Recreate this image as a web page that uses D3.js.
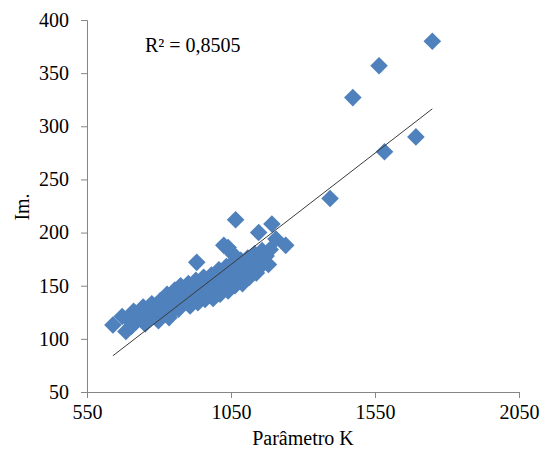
<!DOCTYPE html>
<html>
<head>
<meta charset="utf-8">
<script src="https://cdn.jsdelivr.net/npm/d3@7"></script>
<style>
    body { margin: 0; background: #fff; }
    text { font-family: "Liberation Serif", "Times New Roman", serif; fill: #000; }
</style>
</head>
<body>
<svg id="chart" width="548" height="460"></svg>
<script>
// values
var kValues = [640, 672, 685, 695, 705, 712, 720, 735, 745, 752, 760, 768, 775, 782, 790, 798,
    805, 812, 820, 828, 835, 842, 848, 855, 862, 868, 875, 880, 888, 895, 902, 908, 915, 922,
    928, 935, 942, 948, 955, 960, 968, 975, 982, 988, 995, 1002, 1008, 1012, 1020, 1028, 1034,
    1040, 1046, 1052, 1058, 1064, 1070, 1078, 1084, 1090, 1096, 1102, 1108, 1114, 1120, 1126,
    1132, 1138, 1145, 1152, 1158, 1165, 1172, 1180, 1186,
    931, 1025, 1040, 1056, 1066, 1146, 1192, 1206, 1240, 1394, 1473, 1564, 1583, 1692, 1749];
var imValues = [113, 121, 107, 118, 112, 126, 116, 122, 130, 114, 125, 119, 133, 122, 128, 117,
    136, 124, 131, 142, 120, 134, 127, 146, 138, 128, 150, 133, 143, 136, 152, 131, 145, 139,
    155, 134, 148, 142, 158, 137, 151, 145, 160, 138, 153, 147, 165, 142, 156, 150, 168,
    145, 160, 153, 172, 150, 164, 157, 174, 152, 168, 161, 176, 158, 171, 165,
    180, 162, 175, 168, 183, 172, 178, 170, 184,
    172, 188, 186, 180, 212, 200, 208, 194, 188, 232, 327, 357, 276, 290, 380];
var xTicks = [550, 1050, 1550, 2050];
var yTicks = [50, 100, 150, 200, 250, 300, 350, 400];
var trendSlope = 0.2095;
var trendIntercept = -50.0;
var rSquaredLabel = "R² = 0,8505";

var svg = d3.select("#chart");
var x = d3.scaleLinear().domain([550, 2050]).range([87, 519]);
var y = d3.scaleLinear().domain([50, 400]).range([392, 20]);
var axisColor = "#868686";
var fontSize = 20;

var points = kValues.map(function (k, i) { return { k: k, im: imValues[i] }; });

// axes
var xAxis = svg.append("g")
    .attr("transform", "translate(0," + y(50) + ")")
    .call(d3.axisBottom(x).tickValues(xTicks).tickSize(6).tickPadding(0).tickFormat(d3.format("d")));
var yAxis = svg.append("g")
    .attr("transform", "translate(" + x(550) + ",0)")
    .call(d3.axisLeft(y).tickValues(yTicks).tickSize(6).tickPadding(12).tickFormat(d3.format("d")));
[xAxis, yAxis].forEach(function (a) {
    a.select(".domain").attr("stroke", axisColor);
    a.selectAll(".tick line").attr("stroke", axisColor);
    a.selectAll(".tick text").attr("font-size", fontSize).attr("font-family", "Liberation Serif").attr("fill", "#000");
});
xAxis.selectAll(".tick text").attr("y", 27).attr("dy", null);

// markers
var h = 8.8;
svg.append("g")
    .selectAll("path")
    .data(points)
    .enter().append("path")
    .attr("d", "M0," + (-h) + "L" + h + ",0L0," + h + "L" + (-h) + ",0Z")
    .attr("transform", function (d) { return "translate(" + x(d.k) + "," + y(d.im) + ")"; })
    .attr("fill", "#4f81bd");

// linear trend over the data range
var kExt = d3.extent(kValues);
svg.append("line")
    .attr("x1", x(kExt[0])).attr("y1", y(trendSlope * kExt[0] + trendIntercept))
    .attr("x2", x(kExt[1])).attr("y2", y(trendSlope * kExt[1] + trendIntercept))
    .attr("stroke", "#3a3a3a")
    .attr("stroke-width", 1);

// labels
svg.append("text")
    .attr("x", 145).attr("y", 52)
    .attr("font-size", fontSize)
    .text(rSquaredLabel);
svg.append("text")
    .attr("x", 303).attr("y", 445)
    .attr("text-anchor", "middle")
    .attr("font-size", fontSize)
    .text("Parâmetro K");
svg.append("text")
    .attr("transform", "translate(29,207) rotate(-90)")
    .attr("text-anchor", "middle")
    .attr("font-size", fontSize)
    .text("Im.");
</script>
</body>
</html>
